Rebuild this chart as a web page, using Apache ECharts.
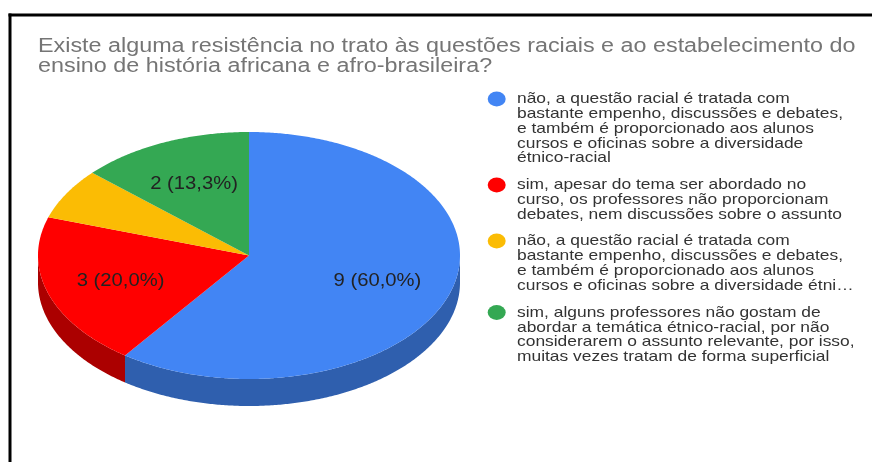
<!DOCTYPE html>
<html><head><meta charset="utf-8">
<style>html,body{margin:0;padding:0;background:#fff}#c{width:872px;height:462px}</style>
<script src="https://cdn.jsdelivr.net/npm/echarts@6/dist/echarts.min.js"></script>
</head><body><div id="c"></div>
<script>
const titleText = "Existe alguma resistência no trato às questões raciais e ao estabelecimento do\nensino de história africana e afro-brasileira?";
const categories = [
 "não, a questão racial é tratada com\nbastante empenho, discussões e debates,\ne também é proporcionado aos alunos\ncursos e oficinas sobre a diversidade\nétnico-racial",
 "sim, apesar do tema ser abordado no\ncurso, os professores não proporcionam\ndebates, nem discussões sobre o assunto",
 "não, a questão racial é tratada com\nbastante empenho, discussões e debates,\ne também é proporcionado aos alunos\ncursos e oficinas sobre a diversidade étni…",
 "sim, alguns professores não gostam de\nabordar a temática étnico-racial, por não\nconsiderarem o assunto relevante, por isso,\nmuitas vezes tratam de forma superficial"
];
const values = [9, 3, 1, 2];
const showLabel = [true, true, false, true];
const colors = ["#4285f4", "#ff0000", "#fbbc04", "#34a853"];
const wallColors = ["#2f5fae", "#ab0000", "#b38603", "#257839"];
const legendTops = [99, 185, 241, 312.5];

const FONT = '"Liberation Sans", Arial, sans-serif';
const CX = 249, CY = 255.5, RX = 211, RY = 123.5, DEPTH = 27;
const total = values.reduce((a, b) => a + b, 0);
const pt = (a, d) => [CX + RX * Math.sin(a), CY - RY * Math.cos(a) + (d || 0)];

function renderSlice(params, api) {
  const i = params.dataIndex, v = api.value(1);
  let before = 0;
  for (let k = 0; k < i; k++) before += values[k];
  const a0 = before / total * 2 * Math.PI, a1 = (before + v) / total * 2 * Math.PI;
  const step = Math.PI / 360, children = [];
  const w0 = Math.max(a0, Math.PI / 2), w1 = Math.min(a1, 1.5 * Math.PI);
  if (w1 > w0) {
    const top = [], bot = [];
    for (let a = w0; a < w1; a += step) { top.push(pt(a)); bot.push(pt(a, DEPTH)); }
    top.push(pt(w1)); bot.push(pt(w1, DEPTH));
    children.push({type: 'polygon', shape: {points: top.concat(bot.reverse())}, style: {fill: wallColors[i]}});
  }
  const pts = [[CX, CY]];
  for (let a = a0; a < a1; a += step) pts.push(pt(a));
  pts.push(pt(a1));
  children.push({type: 'polygon', shape: {points: pts}, style: {fill: colors[i]}});
  if (showLabel[i]) {
    const m = (a0 + a1) / 2, f = 0.64;
    children.push({type: 'text', z2: 10,
      x: CX + RX * f * Math.sin(m), y: CY - RY * f * Math.cos(m) + 1,
      scaleX: 1.155,
      style: {
        x: 0, y: 0,
        text: v + ' (' + (v / total * 100).toFixed(1).replace('.', ',') + '%)',
        fill: '#222', font: '17.5px ' + FONT, align: 'center', verticalAlign: 'middle'
      }});
  }
  return {type: 'group', children};
}

const legendGraphics = [];
categories.forEach((t, i) => {
  legendGraphics.push({type: 'circle', x: 496.7, y: legendTops[i], scaleY: 0.82, shape: {cx: 0, cy: 0, r: 9}, style: {fill: colors[i]}});
  legendGraphics.push({type: 'text', x: 517, y: legendTops[i] - 7, scaleX: 1.16, style: {
    text: t, fill: '#333', font: '15px ' + FONT, lineHeight: 14.7
  }});
});

const chart = echarts.init(document.getElementById('c'), null, {renderer: 'canvas'});
chart.setOption({
  animation: false,
  backgroundColor: '#fff',
  graphic: [
    {type: 'rect', shape: {x: 8.5, y: 13.5, width: 864, height: 3}, style: {fill: '#000'}},
    {type: 'rect', shape: {x: 8.5, y: 13.5, width: 3, height: 449}, style: {fill: '#000'}},
    {type: 'text', x: 38, y: 37, scaleX: 1.197, style: {text: titleText, fill: '#757575', font: '19.5px ' + FONT, lineHeight: 19.6}},
    ...legendGraphics
  ],
  series: [{
    type: 'custom', coordinateSystem: 'none', renderItem: renderSlice,
    data: values.map((v, i) => ({name: categories[i], value: [i, v]}))
  }]
});
</script></body></html>
